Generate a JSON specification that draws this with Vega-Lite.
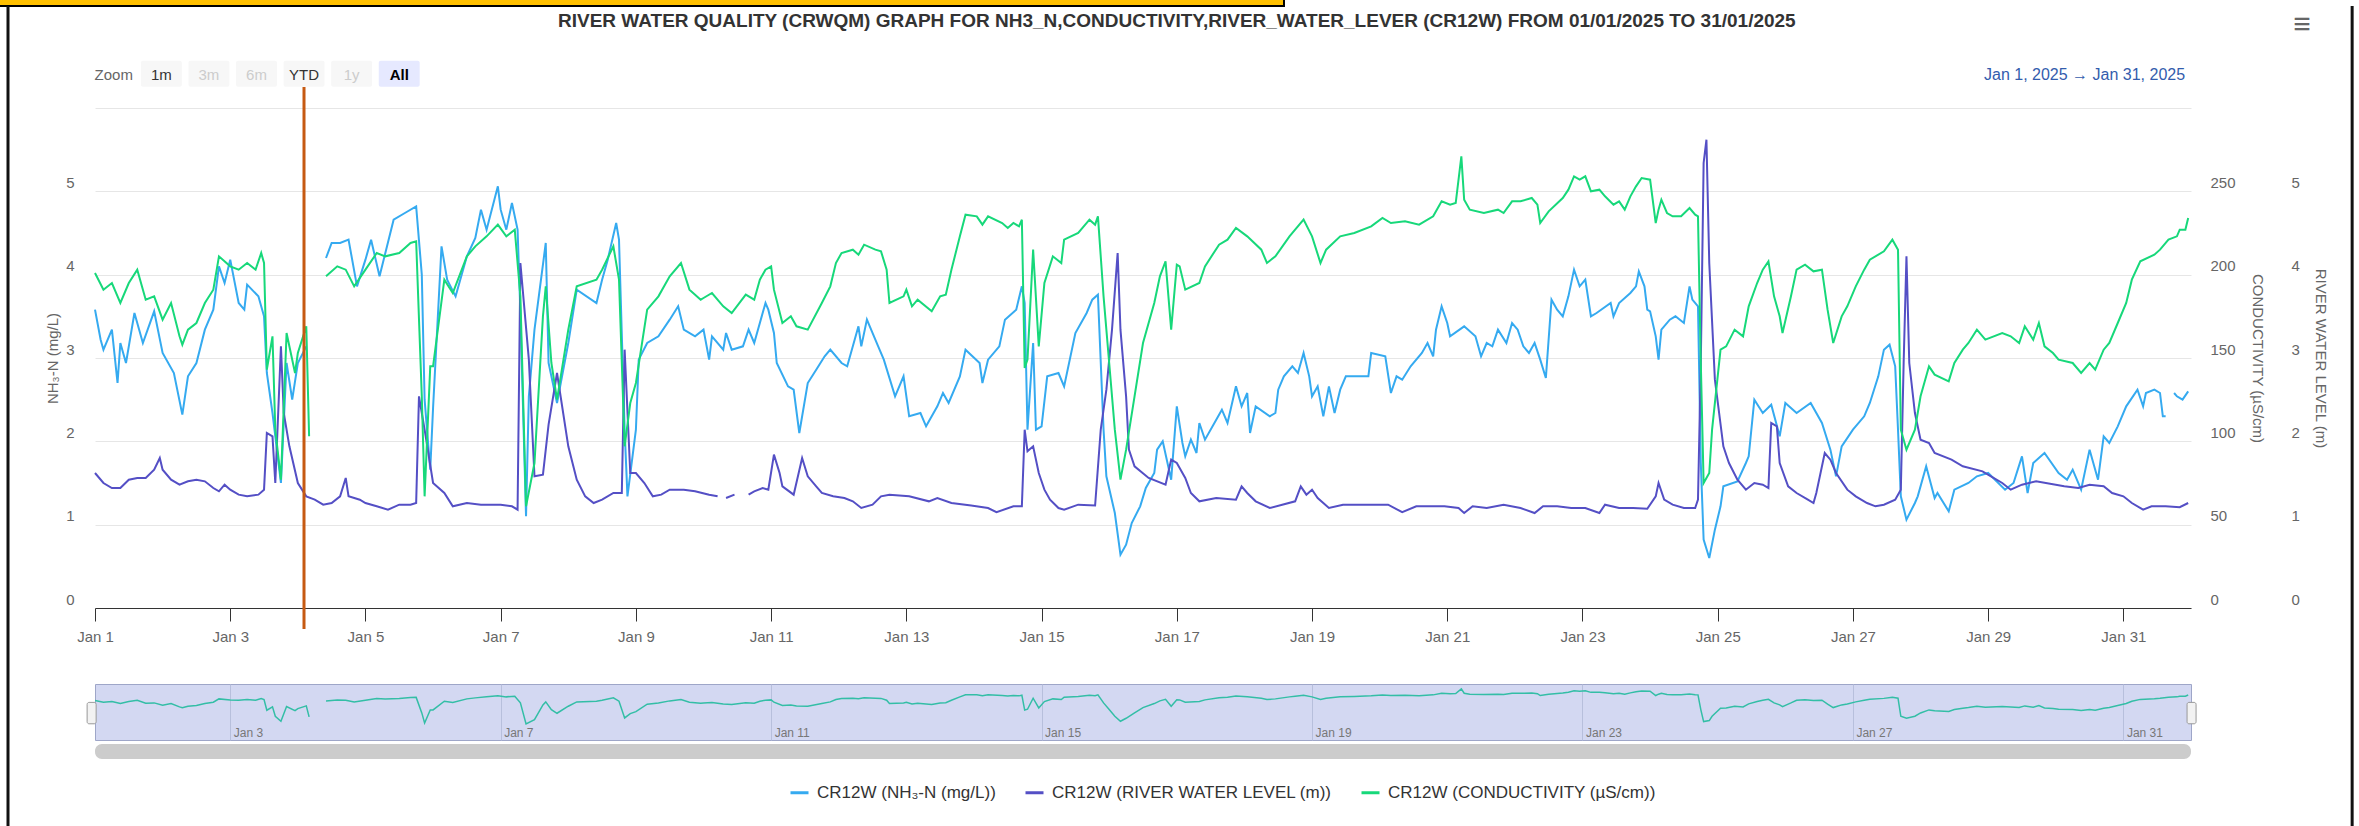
{
"$schema": "https://vega.github.io/schema/vega-lite/v6.json",
"autosize": {"type": "pad"},
"padding": {"left": 0, "top": 0, "right": 5, "bottom": 0},
"background": "white",
"config": {
  "font": "Liberation Sans",
  "view": {"stroke": null},
  "axis": {"labelFont": "Liberation Sans", "titleFont": "Liberation Sans", "labelColor": "#666666", "titleColor": "#666666", "labelFontSize": 15, "titleFontSize": 15, "titleFontWeight": "normal"},
  "text": {"font": "Liberation Sans"}
},
"datasets": {
"one": [{}],
"btn": [{"b":"Zoom","s":"label"},{"b":"1m","s":"enabled"},{"b":"3m","s":"disabled"},{"b":"6m","s":"disabled"},{"b":"YTD","s":"enabled"},{"b":"1y","s":"disabled"},{"b":"All","s":"selected"}],
"nh3": [{"h":0,"v":3.58},{"h":2,"v":3.22},{"h":3,"v":3.1},{"h":6,"v":3.34},{"h":8,"v":2.7},{"h":9,"v":3.18},{"h":11,"v":2.94},{"h":12,"v":3.14},{"h":14,"v":3.54},{"h":17,"v":3.18},{"h":21,"v":3.56},{"h":24,"v":3.06},{"h":28,"v":2.82},{"h":31,"v":2.32},{"h":33,"v":2.78},{"h":36,"v":2.94},{"h":39,"v":3.34},{"h":42,"v":3.58},{"h":44,"v":4.1},{"h":46,"v":3.9},{"h":48,"v":4.18},{"h":51,"v":3.66},{"h":53,"v":3.58},{"h":54,"v":3.88},{"h":58,"v":3.74},{"h":60,"v":3.5},{"h":61,"v":2.82},{"h":63,"v":2.34},{"h":66,"v":1.5},{"h":68,"v":2.94},{"h":70,"v":2.5},{"h":72,"v":2.94},{"h":75,"v":3.14},{"h":76,"v":null},{"h":82,"v":4.2},{"h":84,"v":4.38},{"h":87,"v":4.38},{"h":90,"v":4.42},{"h":93,"v":3.86},{"h":96,"v":4.18},{"h":98,"v":4.42},{"h":101,"v":3.98},{"h":106,"v":4.66},{"h":110,"v":4.74},{"h":114,"v":4.82},{"h":116,"v":4.0},{"h":117,"v":2.5},{"h":119,"v":1.66},{"h":120,"v":2.4},{"h":123,"v":4.34},{"h":125,"v":3.94},{"h":128,"v":3.74},{"h":132,"v":4.22},{"h":135,"v":4.44},{"h":137,"v":4.78},{"h":139,"v":4.54},{"h":143,"v":5.06},{"h":144,"v":4.78},{"h":146,"v":4.54},{"h":148,"v":4.86},{"h":150,"v":4.54},{"h":151,"v":3.54},{"h":153,"v":1.1},{"h":154,"v":2.54},{"h":156,"v":3.34},{"h":160,"v":4.38},{"h":161,"v":2.94},{"h":164,"v":2.46},{"h":168,"v":3.18},{"h":171,"v":3.82},{"h":178,"v":3.66},{"h":180,"v":3.94},{"h":182,"v":4.18},{"h":185,"v":4.62},{"h":186,"v":4.42},{"h":188,"v":2.14},{"h":189,"v":1.34},{"h":192,"v":2.14},{"h":193,"v":2.98},{"h":196,"v":3.18},{"h":200,"v":3.26},{"h":204,"v":3.46},{"h":207,"v":3.62},{"h":209,"v":3.34},{"h":213,"v":3.26},{"h":216,"v":3.34},{"h":218,"v":2.98},{"h":219,"v":3.26},{"h":223,"v":3.1},{"h":224,"v":3.3},{"h":226,"v":3.1},{"h":230,"v":3.14},{"h":232,"v":3.34},{"h":234,"v":3.18},{"h":238,"v":3.66},{"h":239,"v":3.58},{"h":241,"v":3.3},{"h":242,"v":2.94},{"h":246,"v":2.66},{"h":248,"v":2.62},{"h":250,"v":2.1},{"h":253,"v":2.7},{"h":256,"v":2.86},{"h":259,"v":3.02},{"h":261,"v":3.1},{"h":265,"v":2.94},{"h":267,"v":2.9},{"h":271,"v":3.38},{"h":272,"v":3.14},{"h":274,"v":3.46},{"h":278,"v":3.14},{"h":280,"v":2.98},{"h":284,"v":2.54},{"h":287,"v":2.78},{"h":289,"v":2.3},{"h":293,"v":2.34},{"h":295,"v":2.18},{"h":299,"v":2.42},{"h":301,"v":2.58},{"h":303,"v":2.46},{"h":307,"v":2.78},{"h":309,"v":3.1},{"h":314,"v":2.94},{"h":315,"v":2.7},{"h":317,"v":2.98},{"h":321,"v":3.14},{"h":323,"v":3.46},{"h":327,"v":3.58},{"h":329,"v":3.86},{"h":330,"v":3.66},{"h":331,"v":2.14},{"h":333,"v":3.18},{"h":334,"v":2.14},{"h":336,"v":2.18},{"h":338,"v":2.78},{"h":342,"v":2.82},{"h":344,"v":2.66},{"h":348,"v":3.3},{"h":352,"v":3.54},{"h":354,"v":3.7},{"h":356,"v":3.76},{"h":358,"v":2.14},{"h":359,"v":1.58},{"h":362,"v":1.14},{"h":364,"v":0.64},{"h":366,"v":0.76},{"h":368,"v":1.02},{"h":371,"v":1.22},{"h":373,"v":1.44},{"h":376,"v":1.62},{"h":377,"v":1.9},{"h":379,"v":2.0},{"h":382,"v":1.54},{"h":384,"v":2.42},{"h":386,"v":1.98},{"h":387,"v":1.82},{"h":389,"v":2.02},{"h":391,"v":1.86},{"h":392,"v":2.22},{"h":394,"v":2.02},{"h":398,"v":2.26},{"h":400,"v":2.38},{"h":402,"v":2.22},{"h":405,"v":2.66},{"h":407,"v":2.42},{"h":409,"v":2.58},{"h":410,"v":2.1},{"h":412,"v":2.42},{"h":417,"v":2.3},{"h":419,"v":2.34},{"h":420,"v":2.62},{"h":422,"v":2.78},{"h":425,"v":2.9},{"h":427,"v":2.82},{"h":429,"v":3.06},{"h":431,"v":2.78},{"h":432,"v":2.54},{"h":434,"v":2.66},{"h":436,"v":2.3},{"h":438,"v":2.66},{"h":440,"v":2.34},{"h":442,"v":2.62},{"h":444,"v":2.78},{"h":449,"v":2.78},{"h":452,"v":2.78},{"h":453,"v":3.06},{"h":458,"v":3.02},{"h":460,"v":2.58},{"h":462,"v":2.78},{"h":464,"v":2.74},{"h":467,"v":2.9},{"h":471,"v":3.06},{"h":473,"v":3.18},{"h":475,"v":3.02},{"h":476,"v":3.34},{"h":478,"v":3.62},{"h":480,"v":3.42},{"h":481,"v":3.26},{"h":486,"v":3.38},{"h":490,"v":3.26},{"h":492,"v":3.02},{"h":494,"v":3.18},{"h":496,"v":3.14},{"h":498,"v":3.34},{"h":501,"v":3.18},{"h":503,"v":3.42},{"h":505,"v":3.34},{"h":507,"v":3.14},{"h":509,"v":3.06},{"h":511,"v":3.18},{"h":513,"v":2.98},{"h":515,"v":2.76},{"h":517,"v":3.7},{"h":519,"v":3.58},{"h":521,"v":3.5},{"h":523,"v":3.74},{"h":525,"v":4.06},{"h":527,"v":3.86},{"h":529,"v":3.94},{"h":531,"v":3.5},{"h":533,"v":3.54},{"h":538,"v":3.66},{"h":539,"v":3.5},{"h":541,"v":3.66},{"h":545,"v":3.78},{"h":547,"v":3.86},{"h":548,"v":4.04},{"h":550,"v":3.86},{"h":551,"v":3.58},{"h":552,"v":3.56},{"h":554,"v":3.26},{"h":555,"v":2.98},{"h":556,"v":3.34},{"h":559,"v":3.46},{"h":561,"v":3.5},{"h":564,"v":3.42},{"h":566,"v":3.86},{"h":567,"v":3.7},{"h":569,"v":3.62},{"h":570,"v":1.74},{"h":571,"v":0.82},{"h":573,"v":0.6},{"h":575,"v":0.94},{"h":577,"v":1.22},{"h":578,"v":1.46},{"h":583,"v":1.52},{"h":586,"v":1.74},{"h":587,"v":1.82},{"h":589,"v":2.5},{"h":592,"v":2.34},{"h":595,"v":2.44},{"h":598,"v":2.06},{"h":600,"v":2.46},{"h":604,"v":2.34},{"h":609,"v":2.46},{"h":613,"v":2.22},{"h":616,"v":1.9},{"h":618,"v":1.58},{"h":620,"v":1.94},{"h":624,"v":2.14},{"h":628,"v":2.3},{"h":630,"v":2.46},{"h":633,"v":2.78},{"h":635,"v":3.1},{"h":637,"v":3.16},{"h":639,"v":2.9},{"h":640,"v":2.14},{"h":641,"v":1.34},{"h":643,"v":1.06},{"h":646,"v":1.26},{"h":647,"v":1.34},{"h":650,"v":1.7},{"h":653,"v":1.32},{"h":654,"v":1.38},{"h":658,"v":1.16},{"h":660,"v":1.42},{"h":665,"v":1.5},{"h":668,"v":1.58},{"h":672,"v":1.62},{"h":678,"v":1.42},{"h":681,"v":1.5},{"h":684,"v":1.82},{"h":686,"v":1.38},{"h":688,"v":1.74},{"h":692,"v":1.86},{"h":697,"v":1.62},{"h":700,"v":1.54},{"h":702,"v":1.66},{"h":705,"v":1.42},{"h":708,"v":1.9},{"h":711,"v":1.54},{"h":713,"v":2.06},{"h":715,"v":1.98},{"h":718,"v":2.18},{"h":721,"v":2.42},{"h":725,"v":2.62},{"h":727,"v":2.42},{"h":728,"v":2.58},{"h":731,"v":2.62},{"h":733,"v":2.58},{"h":734,"v":2.3},{"h":735,"v":2.3},{"h":736,"v":null},{"h":738,"v":2.58},{"h":739,"v":2.54},{"h":741,"v":2.5},{"h":743,"v":2.6}],
"lvl": [{"h":0,"v":1.62},{"h":3,"v":1.5},{"h":6,"v":1.44},{"h":9,"v":1.44},{"h":12,"v":1.54},{"h":15,"v":1.56},{"h":18,"v":1.56},{"h":21,"v":1.66},{"h":23,"v":1.8},{"h":24,"v":1.66},{"h":27,"v":1.54},{"h":30,"v":1.48},{"h":33,"v":1.52},{"h":36,"v":1.54},{"h":39,"v":1.52},{"h":42,"v":1.44},{"h":44,"v":1.4},{"h":46,"v":1.48},{"h":48,"v":1.42},{"h":51,"v":1.36},{"h":54,"v":1.34},{"h":58,"v":1.36},{"h":60,"v":1.42},{"h":61,"v":2.1},{"h":63,"v":2.06},{"h":64,"v":1.5},{"h":66,"v":3.14},{"h":67,"v":2.34},{"h":69,"v":1.94},{"h":72,"v":1.5},{"h":75,"v":1.34},{"h":78,"v":1.3},{"h":81,"v":1.24},{"h":84,"v":1.26},{"h":87,"v":1.34},{"h":89,"v":1.56},{"h":90,"v":1.34},{"h":94,"v":1.3},{"h":96,"v":1.26},{"h":100,"v":1.22},{"h":104,"v":1.18},{"h":108,"v":1.24},{"h":112,"v":1.24},{"h":114,"v":1.26},{"h":115,"v":2.54},{"h":117,"v":2.14},{"h":120,"v":1.5},{"h":124,"v":1.38},{"h":127,"v":1.22},{"h":132,"v":1.26},{"h":137,"v":1.24},{"h":141,"v":1.24},{"h":144,"v":1.24},{"h":148,"v":1.22},{"h":150,"v":1.18},{"h":151,"v":4.14},{"h":154,"v":2.98},{"h":156,"v":1.58},{"h":159,"v":1.6},{"h":161,"v":2.2},{"h":164,"v":2.82},{"h":168,"v":1.94},{"h":171,"v":1.54},{"h":174,"v":1.34},{"h":177,"v":1.26},{"h":180,"v":1.3},{"h":184,"v":1.38},{"h":187,"v":1.38},{"h":188,"v":3.1},{"h":190,"v":1.62},{"h":192,"v":1.62},{"h":195,"v":1.5},{"h":198,"v":1.34},{"h":201,"v":1.36},{"h":204,"v":1.42},{"h":209,"v":1.42},{"h":213,"v":1.4},{"h":218,"v":1.36},{"h":221,"v":1.34},{"h":222,"v":null},{"h":224,"v":1.32},{"h":227,"v":1.36},{"h":229,"v":null},{"h":232,"v":1.36},{"h":234,"v":1.4},{"h":237,"v":1.44},{"h":239,"v":1.42},{"h":241,"v":1.84},{"h":243,"v":1.62},{"h":244,"v":1.46},{"h":248,"v":1.36},{"h":251,"v":1.8},{"h":253,"v":1.58},{"h":256,"v":1.46},{"h":258,"v":1.38},{"h":262,"v":1.34},{"h":266,"v":1.32},{"h":269,"v":1.28},{"h":272,"v":1.2},{"h":276,"v":1.24},{"h":279,"v":1.34},{"h":282,"v":1.36},{"h":289,"v":1.34},{"h":296,"v":1.28},{"h":299,"v":1.32},{"h":304,"v":1.26},{"h":311,"v":1.23},{"h":317,"v":1.2},{"h":320,"v":1.15},{"h":326,"v":1.22},{"h":329,"v":1.22},{"h":330,"v":2.14},{"h":331,"v":1.88},{"h":333,"v":1.94},{"h":335,"v":1.62},{"h":337,"v":1.42},{"h":339,"v":1.3},{"h":342,"v":1.2},{"h":344,"v":1.18},{"h":349,"v":1.24},{"h":355,"v":1.23},{"h":357,"v":2.14},{"h":359,"v":2.62},{"h":361,"v":3.34},{"h":363,"v":4.26},{"h":364,"v":3.34},{"h":366,"v":2.54},{"h":367,"v":1.9},{"h":369,"v":1.7},{"h":374,"v":1.56},{"h":380,"v":1.48},{"h":382,"v":1.78},{"h":384,"v":1.74},{"h":387,"v":1.56},{"h":389,"v":1.38},{"h":392,"v":1.28},{"h":398,"v":1.32},{"h":405,"v":1.3},{"h":407,"v":1.46},{"h":409,"v":1.38},{"h":412,"v":1.28},{"h":417,"v":1.2},{"h":426,"v":1.28},{"h":428,"v":1.46},{"h":430,"v":1.36},{"h":432,"v":1.42},{"h":434,"v":1.32},{"h":438,"v":1.2},{"h":443,"v":1.24},{"h":454,"v":1.24},{"h":459,"v":1.24},{"h":464,"v":1.15},{"h":469,"v":1.22},{"h":479,"v":1.22},{"h":484,"v":1.2},{"h":486,"v":1.14},{"h":489,"v":1.22},{"h":494,"v":1.2},{"h":500,"v":1.24},{"h":506,"v":1.2},{"h":511,"v":1.14},{"h":514,"v":1.22},{"h":519,"v":1.22},{"h":524,"v":1.2},{"h":529,"v":1.2},{"h":534,"v":1.14},{"h":536,"v":1.24},{"h":541,"v":1.2},{"h":546,"v":1.2},{"h":551,"v":1.19},{"h":554,"v":1.34},{"h":555,"v":1.5},{"h":557,"v":1.3},{"h":560,"v":1.24},{"h":564,"v":1.2},{"h":568,"v":1.2},{"h":569,"v":1.3},{"h":570,"v":2.94},{"h":571,"v":5.34},{"h":572,"v":5.62},{"h":573,"v":4.14},{"h":575,"v":2.74},{"h":578,"v":1.94},{"h":580,"v":1.74},{"h":583,"v":1.54},{"h":586,"v":1.42},{"h":589,"v":1.5},{"h":592,"v":1.48},{"h":594,"v":1.44},{"h":595,"v":2.22},{"h":597,"v":2.18},{"h":598,"v":1.74},{"h":601,"v":1.46},{"h":604,"v":1.38},{"h":608,"v":1.3},{"h":610,"v":1.26},{"h":611,"v":1.38},{"h":614,"v":1.86},{"h":616,"v":1.78},{"h":618,"v":1.62},{"h":622,"v":1.42},{"h":625,"v":1.34},{"h":629,"v":1.26},{"h":632,"v":1.22},{"h":635,"v":1.24},{"h":639,"v":1.3},{"h":641,"v":1.42},{"h":642,"v":2.94},{"h":643,"v":4.22},{"h":644,"v":2.94},{"h":646,"v":2.34},{"h":648,"v":2.02},{"h":651,"v":1.98},{"h":653,"v":1.86},{"h":659,"v":1.78},{"h":663,"v":1.7},{"h":670,"v":1.64},{"h":673,"v":1.58},{"h":677,"v":1.5},{"h":680,"v":1.42},{"h":684,"v":1.48},{"h":689,"v":1.52},{"h":699,"v":1.46},{"h":704,"v":1.44},{"h":708,"v":1.48},{"h":713,"v":1.46},{"h":716,"v":1.38},{"h":720,"v":1.34},{"h":723,"v":1.26},{"h":727,"v":1.18},{"h":730,"v":1.22},{"h":735,"v":1.22},{"h":740,"v":1.21},{"h":743,"v":1.26}],
"cond": [{"h":0,"v":201},{"h":3,"v":191},{"h":6,"v":195},{"h":9,"v":183},{"h":12,"v":195},{"h":15,"v":203},{"h":18,"v":185},{"h":21,"v":187},{"h":24,"v":173},{"h":27,"v":183},{"h":30,"v":163},{"h":31,"v":158},{"h":33,"v":167},{"h":36,"v":171},{"h":39,"v":183},{"h":42,"v":191},{"h":44,"v":211},{"h":48,"v":205},{"h":51,"v":203},{"h":54,"v":207},{"h":57,"v":203},{"h":59,"v":213},{"h":60,"v":207},{"h":61,"v":143},{"h":63,"v":163},{"h":64,"v":107},{"h":66,"v":77},{"h":68,"v":165},{"h":71,"v":141},{"h":72,"v":153},{"h":75,"v":169},{"h":76,"v":103},{"h":78,"v":null},{"h":82,"v":199},{"h":86,"v":205},{"h":89,"v":203},{"h":92,"v":193},{"h":96,"v":203},{"h":100,"v":213},{"h":103,"v":211},{"h":108,"v":213},{"h":112,"v":219},{"h":114,"v":220},{"h":116,"v":127},{"h":117,"v":67},{"h":119,"v":145},{"h":120,"v":145},{"h":124,"v":197},{"h":127,"v":189},{"h":132,"v":211},{"h":135,"v":217},{"h":139,"v":223},{"h":143,"v":230},{"h":146,"v":223},{"h":149,"v":227},{"h":151,"v":187},{"h":153,"v":61},{"h":156,"v":87},{"h":159,"v":175},{"h":160,"v":193},{"h":162,"v":147},{"h":164,"v":125},{"h":168,"v":167},{"h":171,"v":193},{"h":178,"v":197},{"h":180,"v":203},{"h":184,"v":217},{"h":186,"v":197},{"h":188,"v":97},{"h":190,"v":123},{"h":192,"v":135},{"h":196,"v":179},{"h":200,"v":187},{"h":204,"v":199},{"h":208,"v":207},{"h":211,"v":191},{"h":215,"v":185},{"h":216,"v":186},{"h":219,"v":189},{"h":223,"v":181},{"h":226,"v":177},{"h":231,"v":188},{"h":234,"v":185},{"h":236,"v":197},{"h":238,"v":203},{"h":240,"v":205},{"h":241,"v":191},{"h":244,"v":171},{"h":247,"v":175},{"h":249,"v":169},{"h":253,"v":167},{"h":258,"v":183},{"h":261,"v":193},{"h":263,"v":207},{"h":265,"v":213},{"h":269,"v":215},{"h":271,"v":212},{"h":273,"v":218},{"h":277,"v":215},{"h":279,"v":214},{"h":281,"v":203},{"h":282,"v":183},{"h":287,"v":187},{"h":288,"v":191},{"h":290,"v":181},{"h":292,"v":185},{"h":297,"v":178},{"h":300,"v":187},{"h":302,"v":188},{"h":304,"v":203},{"h":307,"v":223},{"h":309,"v":236},{"h":313,"v":235},{"h":315,"v":230},{"h":317,"v":235},{"h":322,"v":231},{"h":324,"v":228},{"h":326,"v":231},{"h":328,"v":229},{"h":329,"v":233},{"h":330,"v":144},{"h":331,"v":149},{"h":333,"v":215},{"h":335,"v":157},{"h":337,"v":195},{"h":340,"v":211},{"h":343,"v":207},{"h":344,"v":221},{"h":349,"v":225},{"h":353,"v":233},{"h":355,"v":230},{"h":356,"v":235},{"h":358,"v":187},{"h":360,"v":147},{"h":362,"v":107},{"h":364,"v":77},{"h":366,"v":95},{"h":369,"v":127},{"h":372,"v":159},{"h":376,"v":183},{"h":378,"v":199},{"h":380,"v":208},{"h":382,"v":167},{"h":384,"v":206},{"h":385,"v":205},{"h":387,"v":191},{"h":392,"v":195},{"h":394,"v":205},{"h":399,"v":218},{"h":402,"v":221},{"h":405,"v":228},{"h":409,"v":223},{"h":414,"v":215},{"h":416,"v":207},{"h":419,"v":211},{"h":424,"v":223},{"h":426,"v":227},{"h":429,"v":233},{"h":432,"v":223},{"h":435,"v":207},{"h":437,"v":215},{"h":442,"v":223},{"h":447,"v":225},{"h":453,"v":229},{"h":457,"v":234},{"h":460,"v":231},{"h":465,"v":232},{"h":470,"v":230},{"h":475,"v":235},{"h":478,"v":244},{"h":481,"v":242},{"h":483,"v":243},{"h":485,"v":271},{"h":486,"v":245},{"h":488,"v":239},{"h":493,"v":237},{"h":498,"v":239},{"h":500,"v":237},{"h":503,"v":244},{"h":506,"v":244},{"h":510,"v":246},{"h":512,"v":242},{"h":513,"v":231},{"h":516,"v":238},{"h":521,"v":246},{"h":523,"v":251},{"h":525,"v":259},{"h":527,"v":257},{"h":529,"v":259},{"h":531,"v":250},{"h":534,"v":251},{"h":536,"v":247},{"h":539,"v":242},{"h":541,"v":244},{"h":543,"v":239},{"h":545,"v":247},{"h":547,"v":253},{"h":549,"v":258},{"h":552,"v":257},{"h":554,"v":231},{"h":555,"v":239},{"h":556,"v":245},{"h":558,"v":237},{"h":560,"v":235},{"h":563,"v":235},{"h":566,"v":240},{"h":568,"v":236},{"h":569,"v":235},{"h":570,"v":147},{"h":571,"v":75},{"h":573,"v":81},{"h":574,"v":107},{"h":577,"v":155},{"h":579,"v":157},{"h":582,"v":167},{"h":585,"v":163},{"h":587,"v":181},{"h":590,"v":195},{"h":592,"v":203},{"h":594,"v":208},{"h":596,"v":187},{"h":598,"v":175},{"h":599,"v":165},{"h":602,"v":187},{"h":604,"v":203},{"h":607,"v":206},{"h":610,"v":202},{"h":613,"v":203},{"h":615,"v":179},{"h":617,"v":159},{"h":620,"v":175},{"h":622,"v":181},{"h":625,"v":193},{"h":628,"v":203},{"h":630,"v":209},{"h":635,"v":214},{"h":638,"v":221},{"h":640,"v":215},{"h":641,"v":107},{"h":643,"v":95},{"h":646,"v":107},{"h":648,"v":127},{"h":651,"v":145},{"h":653,"v":140},{"h":658,"v":136},{"h":660,"v":147},{"h":663,"v":155},{"h":665,"v":159},{"h":668,"v":167},{"h":671,"v":161},{"h":677,"v":165},{"h":680,"v":163},{"h":683,"v":159},{"h":685,"v":169},{"h":688,"v":161},{"h":690,"v":171},{"h":692,"v":157},{"h":695,"v":153},{"h":697,"v":149},{"h":702,"v":147},{"h":705,"v":141},{"h":708,"v":147},{"h":710,"v":143},{"h":713,"v":155},{"h":715,"v":159},{"h":718,"v":171},{"h":721,"v":183},{"h":723,"v":197},{"h":726,"v":208},{"h":731,"v":212},{"h":733,"v":215},{"h":736,"v":221},{"h":739,"v":223},{"h":740,"v":227},{"h":742,"v":227},{"h":743,"v":234}]
},
"spacing": 76,
"bounds": "flush",
"vconcat": [
{
  "width": 2096,
  "height": 500,
  "title": {"text": "RIVER WATER QUALITY (CRWQM) GRAPH FOR NH3_N,CONDUCTIVITY,RIVER_WATER_LEVER (CR12W) FROM 01/01/2025 TO 31/01/2025", "font": "Liberation Sans", "fontSize": 19, "fontWeight": "bold", "color": "#333333", "anchor": "middle", "frame": "bounds", "baseline": "alphabetic", "offset": -46},
  "resolve": {"scale": {"x": "independent", "y": "independent"}, "axis": {"x": "independent", "y": "independent"}},
  "layer": [
    {
      "data": {"name": "nh3"},
      "mark": {"type": "line", "strokeWidth": 2, "invalid": "break-paths-filter-domains"},
      "encoding": {
        "x": {"field": "h", "type": "quantitative", "scale": {"domain": [0, 744], "nice": false, "zero": false},
              "axis": {"orient": "bottom", "values": [0,48,96,144,192,240,288,336,384,432,480,528,576,624,672,720], "labelExpr": "'Jan ' + (datum.value / 24 + 1)", "title": null, "grid": false, "domainColor": "#333333", "tickColor": "#333333", "tickSize": 13, "labelPadding": 8, "labelFlush": false, "labelOverlap": false}},
        "y": {"field": "v", "type": "quantitative", "scale": {"domain": [0, 6], "nice": false},
              "axis": {"orient": "left", "values": [0,1,2,3,4,5,6], "labelExpr": "datum.value == 6 ? '' : datum.label", "title": "NH₃-N (mg/L)", "grid": true, "gridColor": "#e6e6e6", "domain": false, "ticks": false, "labelPadding": 21, "labelOffset": -9, "titleX": -43, "titleY": 250, "titleAngle": 270, "titleBaseline": "middle", "titleAlign": "center"}},
        "color": {"datum": "CR12W (NH₃-N (mg/L))", "type": "nominal",
                  "scale": {"domain": ["CR12W (NH₃-N (mg/L))", "CR12W (RIVER WATER LEVEL (m))", "CR12W (CONDUCTIVITY (µS/cm))"], "range": ["#35aaf0", "#544fc5", "#17d87a"]},
                  "legend": {"orient": "none", "legendX": 694, "legendY": 674, "direction": "horizontal", "title": null, "symbolType": "stroke", "symbolSize": 324, "symbolStrokeWidth": 3, "labelFontSize": 17, "labelColor": "#333333", "labelFont": "Liberation Sans", "columnPadding": 23, "labelOffset": 7, "labelLimit": 0}}
      }
    },
    {
      "data": {"name": "lvl"},
      "mark": {"type": "line", "strokeWidth": 2, "invalid": "break-paths-filter-domains"},
      "encoding": {
        "x": {"field": "h", "type": "quantitative", "scale": {"domain": [0, 744], "nice": false, "zero": false}, "axis": null},
        "y": {"field": "v", "type": "quantitative", "scale": {"domain": [0, 6], "nice": false},
              "axis": {"orient": "right", "offset": 95, "values": [0,1,2,3,4,5,6], "labelExpr": "datum.value == 6 ? '' : datum.label", "title": "RIVER WATER LEVEL (m)", "grid": false, "domain": false, "ticks": false, "labelPadding": 5, "labelOffset": -9, "titleX": 34, "titleY": 250, "titleAngle": 90, "titleBaseline": "middle", "titleAlign": "center"}},
        "color": {"datum": "CR12W (RIVER WATER LEVEL (m))", "type": "nominal"}
      }
    },
    {
      "data": {"name": "cond"},
      "mark": {"type": "line", "strokeWidth": 2, "invalid": "break-paths-filter-domains"},
      "encoding": {
        "x": {"field": "h", "type": "quantitative", "scale": {"domain": [0, 744], "nice": false, "zero": false}, "axis": null},
        "y": {"field": "v", "type": "quantitative", "scale": {"domain": [0, 300], "nice": false},
              "axis": {"orient": "right", "offset": 0, "values": [0,50,100,150,200,250,300], "labelExpr": "datum.value == 300 ? '' : datum.label", "title": "CONDUCTIVITY (µS/cm)", "grid": false, "domain": false, "ticks": false, "labelPadding": 19, "labelOffset": -9, "titleX": 66, "titleY": 250, "titleAngle": 90, "titleBaseline": "middle", "titleAlign": "center"}},
        "color": {"datum": "CR12W (CONDUCTIVITY (µS/cm))", "type": "nominal"}
      }
    },
    {
      "data": {"name": "one"},
      "encoding": {
        "x": {"datum": 0, "type": "quantitative", "scale": {"domain": [0, 744], "nice": false, "zero": false}, "axis": null},
        "y": {"datum": 0, "type": "quantitative", "scale": {"domain": [0, 6], "nice": false}, "axis": null}
      },
      "layer": [
        {"mark": {"type": "rect", "fill": "#000000"}, "encoding": {"x": {"datum": -33.72, "type": "quantitative"}, "x2": {"datum": 422.4}, "y": {"datum": 7.296, "type": "quantitative"}, "y2": {"datum": 7.212}}},
        {"mark": {"type": "rect", "fill": "#ffc000"}, "encoding": {"x": {"datum": -33.72, "type": "quantitative"}, "x2": {"datum": 421.7}, "y": {"datum": 7.296, "type": "quantitative"}, "y2": {"datum": 7.236}}},
        {"mark": {"type": "rule", "stroke": "#111111", "strokeWidth": 3}, "encoding": {"x": {"datum": -30.88, "type": "quantitative"}, "y": {"datum": 7.224, "type": "quantitative"}, "y2": {"datum": -2.616}}},
        {"mark": {"type": "rule", "stroke": "#111111", "strokeWidth": 3}, "encoding": {"x": {"datum": 801.2, "type": "quantitative"}, "y": {"datum": 7.224, "type": "quantitative"}, "y2": {"datum": -2.616}}},
        {"mark": {"type": "rule", "stroke": "#c65a12", "strokeWidth": 3}, "encoding": {"x": {"datum": 74.19, "type": "quantitative"}, "y": {"datum": 6.252, "type": "quantitative"}, "y2": {"datum": -0.252}}},
        {"mark": {"type": "text", "align": "right", "baseline": "middle", "fontSize": 16, "color": "#335cad", "text": "Jan 1, 2025   →   Jan 31, 2025"}, "encoding": {"x": {"datum": 741.9, "type": "quantitative"}, "y": {"datum": 6.4, "type": "quantitative"}}},
        {"mark": {"type": "text", "align": "center", "baseline": "middle", "fontSize": 30, "color": "#666666", "text": "≡"}, "encoding": {"x": {"datum": 783.4, "type": "quantitative"}, "y": {"datum": 7.0, "type": "quantitative"}}}
      ]
    },
    {
      "data": {"name": "btn"},
      "encoding": {
        "x": {"field": "b", "type": "nominal", "sort": null, "scale": {"type": "band", "domain": ["Zoom","1m","3m","6m","YTD","1y","All"], "range": [-5, 328], "paddingInner": 0.14, "paddingOuter": 0.07}, "axis": null}
      },
      "layer": [
        {"transform": [{"filter": "datum.s != 'label'"}],
         "mark": {"type": "rect", "cornerRadius": 2},
         "encoding": {"y": {"datum": 6.566, "type": "quantitative", "scale": {"domain": [0, 6], "nice": false}, "axis": null}, "y2": {"datum": 6.254},
                      "fill": {"condition": {"test": "datum.s == 'selected'", "value": "#e6e9ff"}, "value": "#f7f7f7"}}},
        {"transform": [{"filter": "datum.s != 'selected'"}],
         "mark": {"type": "text", "align": "center", "baseline": "middle", "fontSize": 15},
         "encoding": {"y": {"datum": 6.4, "type": "quantitative"}, "text": {"field": "b"},
                      "color": {"condition": [{"test": "datum.s == 'disabled'", "value": "#cccccc"}, {"test": "datum.s == 'label'", "value": "#666666"}], "value": "#333333"}}},
        {"transform": [{"filter": "datum.s == 'selected'"}],
         "mark": {"type": "text", "align": "center", "baseline": "middle", "fontSize": 15, "fontWeight": "bold", "color": "#000000"},
         "encoding": {"y": {"datum": 6.4, "type": "quantitative"}, "text": {"field": "b"}}}
      ]
    }
  ]
},
{
  "spacing": 4,
  "bounds": "flush",
  "vconcat": [
    {
      "width": 2096,
      "height": 56,
      "view": {"fill": "#d3d8f2", "stroke": "#9ea6c8", "strokeWidth": 1},
      "layer": [
        {
          "data": {"name": "cond"},
          "mark": {"type": "line", "color": "#33bea6", "strokeWidth": 1.5, "invalid": "break-paths-filter-domains"},
          "encoding": {
            "x": {"field": "h", "type": "quantitative", "scale": {"domain": [0, 744], "nice": false, "zero": false},
                  "axis": {"orient": "bottom", "values": [48,144,240,336,432,528,624,720], "labelExpr": "'Jan ' + (datum.value / 24 + 1)", "title": null, "grid": true, "gridColor": "#b7bfdc", "domain": false, "ticks": false, "labelAlign": "left", "labelBaseline": "alphabetic", "labelPadding": -4, "labelOffset": 3, "labelFontSize": 12, "labelColor": "#777777", "labelFlush": false}},
            "y": {"field": "v", "type": "quantitative", "scale": {"domain": [-35, 300], "nice": false, "zero": false}, "axis": null}
          }
        },
        {
          "data": {"name": "one"},
          "mark": {"type": "rect", "fill": "#f2f2f2", "stroke": "#999999", "strokeWidth": 1, "cornerRadius": 2},
          "encoding": {"x": {"datum": -2.8, "type": "quantitative"}, "x2": {"datum": 0.4}, "y": {"datum": 190, "type": "quantitative"}, "y2": {"datum": 62}}
        },
        {
          "data": {"name": "one"},
          "mark": {"type": "rect", "fill": "#f2f2f2", "stroke": "#999999", "strokeWidth": 1, "cornerRadius": 2},
          "encoding": {"x": {"datum": 742.6, "type": "quantitative"}, "x2": {"datum": 745.8}, "y": {"datum": 190, "type": "quantitative"}, "y2": {"datum": 62}}
        }
      ]
    },
    {
      "width": 2096,
      "height": 15,
      "view": {"fill": "#cccccc", "stroke": null, "cornerRadius": 7},
      "data": {"values": []},
      "mark": "rule",
      "encoding": {}
    }
  ]
}
]
}
